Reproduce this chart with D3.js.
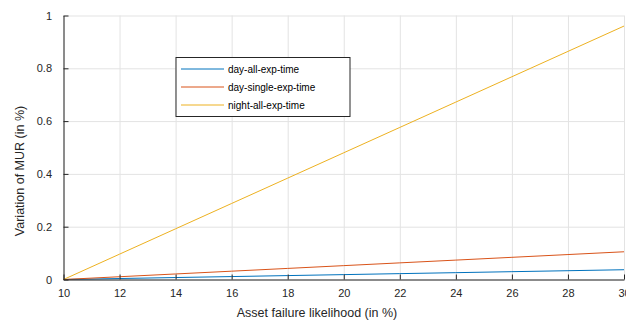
<!DOCTYPE html>
<html>
<head>
<meta charset="utf-8">
<script src="https://cdn.jsdelivr.net/npm/d3@7"></script>
<style>
  body { margin: 0; background: #fff; }
  svg { display: block; font-family: "Liberation Sans", Arial, sans-serif; }
  .grid line { stroke: #e3e3e3; stroke-width: 1; }
  .grid path { display: none; }
  .axis path, .axis line { stroke: #262626; }
  .axis text { fill: #262626; font-size: 11px; }
</style>
</head>
<body>
<div id="chart"></div>
<script>
/* data */
var likelihood = [10, 12, 14, 16, 18, 20, 22, 24, 26, 28, 30]
var dayAll = [0, 0.0037, 0.0074, 0.0111, 0.0148, 0.0185, 0.0222, 0.0259, 0.0296, 0.0333, 0.037]
var daySingle = [0, 0.0105, 0.021, 0.0315, 0.042, 0.0525, 0.063, 0.0735, 0.084, 0.0945, 0.105]
var nightAll = [0, 0.096, 0.192, 0.288, 0.384, 0.48, 0.576, 0.672, 0.768, 0.864, 0.96]
var seriesNames = ["day-all-exp-time", "day-single-exp-time", "night-all-exp-time"]
var xTicks = [10, 12, 14, 16, 18, 20, 22, 24, 26, 28, 30]
var yTicks = [0, 0.2, 0.4, 0.6, 0.8, 1]

var colors = ["#0072BD", "#D95319", "#EDB120"]

var layout = {
  width: 626,
  height: 320,
  left: 63.5,
  right: 624,
  top: 15.5,
  bottom: 279.5,
  tickLen: 5
}

var series = [dayAll, daySingle, nightAll].map(function(vals, i) {
  return {
    name: seriesNames[i],
    color: colors[i],
    points: vals.map(function(v, j) { return { x: likelihood[j], y: v } })
  }
})

var x = d3.scaleLinear().domain([10, 30]).range([layout.left, layout.right])
var y = d3.scaleLinear().domain([0, 1]).range([layout.bottom, layout.top])

var svg = d3.select("#chart").append("svg")
  .attr("width", layout.width)
  .attr("height", layout.height)

/* grid */
svg.append("g")
  .attr("class", "grid")
  .attr("transform", "translate(0," + layout.bottom + ")")
  .call(d3.axisBottom(x).tickValues(xTicks).tickSize(-(layout.bottom - layout.top)).tickFormat(""))

svg.append("g")
  .attr("class", "grid")
  .attr("transform", "translate(" + layout.left + ",0)")
  .call(d3.axisLeft(y).tickValues(yTicks).tickSize(-(layout.right - layout.left)).tickFormat(""))

/* lines */
var line = d3.line()
  .x(function(d) { return x(d.x) })
  .y(function(d) { return y(d.y) })

svg.selectAll(".series").data(series).enter()
  .append("path")
  .attr("class", "series")
  .attr("d", function(d) { return line(d.points) })
  .style("fill", "none")
  .style("stroke", function(d) { return d.color })
  .style("stroke-width", 1)

/* axes */
var xAxis = svg.append("g")
  .attr("class", "axis")
  .attr("transform", "translate(0," + layout.bottom + ")")
  .call(d3.axisBottom(x).tickValues(xTicks).tickSizeInner(-layout.tickLen).tickSizeOuter(0).tickPadding(10))

var yAxis = svg.append("g")
  .attr("class", "axis")
  .attr("transform", "translate(" + layout.left + ",0)")
  .call(d3.axisLeft(y).tickValues(yTicks).tickSizeInner(-layout.tickLen).tickSizeOuter(0).tickPadding(11.5)
    .tickFormat(function(d) { return d3.format("")(+d.toFixed(1)) }))

/* axis labels */
svg.append("text")
  .text("Asset failure likelihood (in %)")
  .attr("x", 317)
  .attr("y", 317)
  .attr("text-anchor", "middle")
  .style("font-size", "12.5px")
  .style("fill", "#262626")

svg.append("text")
  .text("Variation of MUR (in %)")
  .attr("transform", "translate(23.5,171) rotate(-90)")
  .attr("text-anchor", "middle")
  .style("font-size", "12.5px")
  .style("fill", "#262626")

/* legend */
var legend = svg.append("g").attr("transform", "translate(176,57.5)")

legend.append("rect")
  .attr("width", 174)
  .attr("height", 59)
  .style("fill", "#fff")
  .style("stroke", "#262626")
  .style("stroke-width", 1)

var items = legend.selectAll(".item").data(series).enter()
  .append("g")
  .attr("class", "item")
  .attr("transform", function(d, i) { return "translate(0," + (11.5 + i * 18) + ")" })

items.append("line")
  .attr("x1", 5)
  .attr("x2", 48)
  .style("stroke", function(d) { return d.color })
  .style("stroke-width", 1)

items.append("text")
  .text(function(d) { return d.name })
  .attr("x", 52)
  .attr("y", 3.5)
  .style("font-size", "10px")
  .style("fill", "#000")
</script>
</body>
</html>
